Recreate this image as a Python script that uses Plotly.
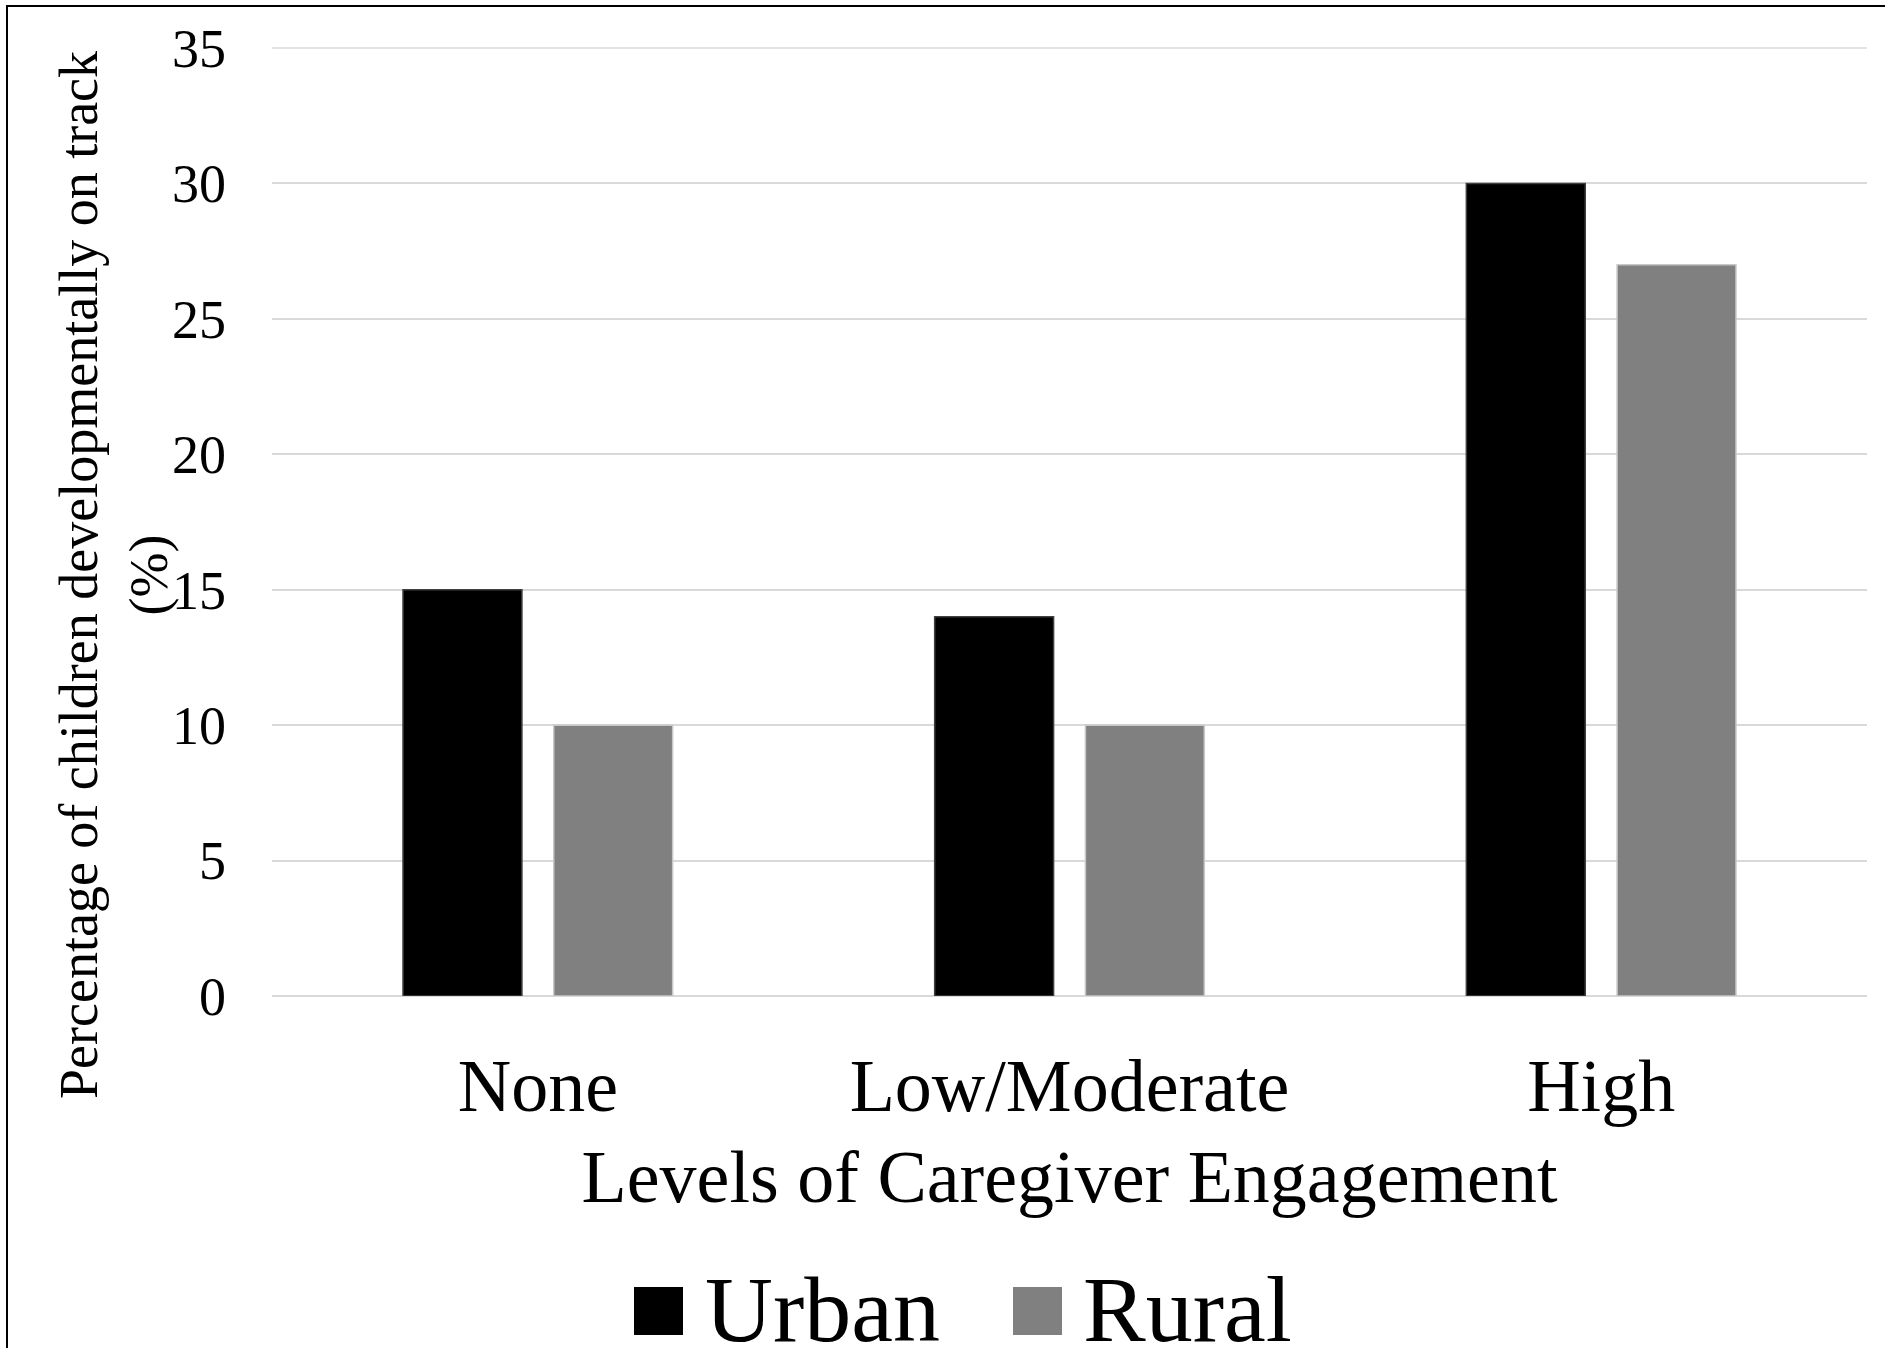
import plotly.graph_objects as go

# Share of children developmentally on track, by caregiver engagement level
categories = ["None", "Low/Moderate", "High"]
series_names = ["Urban", "Rural"]
urban_values = [15, 14, 30]
rural_values = [10, 10, 27]
y_ticks = [0, 5, 10, 15, 20, 25, 30, 35]

FONT = "Liberation Serif, Times New Roman, serif"
URBAN_COLOR = "#000000"
RURAL_COLOR = "#808080"
GRID_COLOR = "#d9d9d9"

W, H = 1885, 1348
M_L, M_R, M_T, M_B = 272, 18, 48, 352
PW = W - M_L - M_R
PH = H - M_T - M_B


def px_x(x):
    """Pixel column -> paper x."""
    return (x - M_L) / PW


def px_y(y):
    """Pixel row -> paper y."""
    return (H - M_B - y) / PH


fig = go.Figure()
fig.add_trace(go.Bar(
    x=categories, y=urban_values, name=series_names[0],
    marker=dict(color=URBAN_COLOR, line=dict(color="#404040", width=1.5)),
    showlegend=False,
))
fig.add_trace(go.Bar(
    x=categories, y=rural_values, name=series_names[1],
    marker=dict(color=RURAL_COLOR, line=dict(color="#c8c8c8", width=1.5)),
    showlegend=False,
))

# Legend drawn as swatches + labels below the axis title
legend_items = [
    (series_names[0], URBAN_COLOR, 634, 707),
    (series_names[1], RURAL_COLOR, 1013, 1085),
]
shapes = []
annotations = []
for name, color, sx, tx in legend_items:
    shapes.append(dict(
        type="rect", xref="paper", yref="paper",
        x0=px_x(sx), x1=px_x(sx + 49), y0=px_y(1335), y1=px_y(1287),
        fillcolor=color, line=dict(width=0), layer="above",
    ))
    annotations.append(dict(
        text=name, xref="paper", yref="paper",
        x=px_x(tx - 4), y=px_y(1309), xanchor="left", yanchor="middle",
        showarrow=False, font=dict(family=FONT, size=94, color="#000000"),
    ))

# Top gridline sits on the plot edge, so draw it explicitly (unclipped)
shapes.append(dict(
    type="line", xref="paper", yref="paper", x0=0, x1=1, y0=1, y1=1,
    line=dict(color=GRID_COLOR, width=1.5), layer="below",
))

# Y-axis title as a rotated two-line annotation
annotations.append(dict(
    text="Percentage of children developmentally on track<br>(%)",
    xref="paper", yref="paper", x=px_x(114), y=px_y(575),
    xanchor="center", yanchor="middle", textangle=-90, showarrow=False,
    font=dict(family=FONT, size=54, color="#000000"),
))

# Outer frame around the chart
shapes.append(dict(
    type="rect", xref="paper", yref="paper",
    x0=px_x(7), x1=px_x(W + 20), y0=px_y(H + 20), y1=px_y(6),
    line=dict(color="#000000", width=2), fillcolor="rgba(0,0,0,0)",
))

fig.update_layout(
    width=W, height=H,
    margin=dict(l=M_L, r=M_R, t=M_T, b=M_B, pad=0),
    paper_bgcolor="#ffffff", plot_bgcolor="#ffffff",
    barmode="group", bargap=0.433, bargroupgap=0.211,
    font=dict(family=FONT, color="#000000"),
    shapes=shapes, annotations=annotations,
    showlegend=False,
)
fig.update_xaxes(
    type="category", showgrid=False, zeroline=False, showline=False,
    ticks="", tickfont=dict(family=FONT, size=74, color="#000000"),
    ticklabelstandoff=40,
    title=dict(text="Levels of Caregiver Engagement",
               font=dict(family=FONT, size=74, color="#000000"), standoff=24),
)
fig.update_yaxes(
    range=[0, 35], tickvals=y_ticks, ticktext=[str(v) for v in y_ticks],
    showgrid=True, gridcolor=GRID_COLOR, gridwidth=1.5,
    zeroline=True, zerolinecolor=GRID_COLOR, zerolinewidth=1.5,
    showline=False, ticks="",
    tickfont=dict(family=FONT, size=54, color="#000000"),
    ticklabelstandoff=45,
)

fig.write_html("out.html")
